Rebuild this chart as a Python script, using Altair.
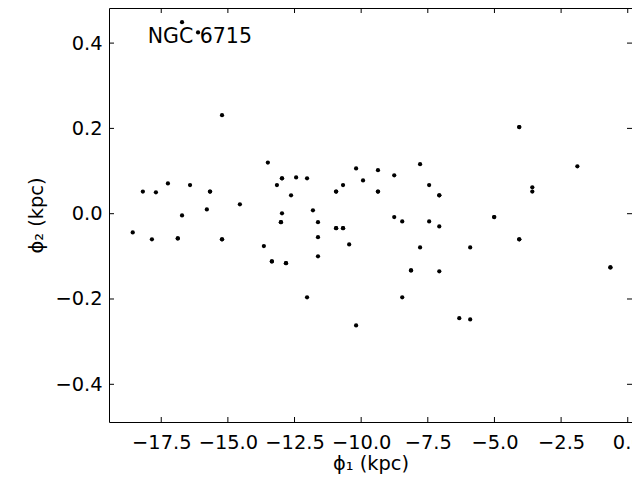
import altair as alt
import pandas as pd

# phi1 (kpc), phi2 (kpc) (overlapping stars listed twice)
phi1 = [-18.57, -18.19, -17.85, -17.70, -17.25, -16.88, -16.88, -16.72, -16.72, -16.42,
        -16.12, -15.79, -15.67, -15.67, -15.22, -15.22, -15.22, -14.55, -13.65, -13.50,
        -13.35, -13.35, -13.16, -12.97, -12.97, -12.97, -13.01, -13.01, -12.82, -12.82,
        -12.63, -12.44, -12.03, -12.03, -11.81, -11.62, -11.62, -11.62, -10.94, -10.94,
        -10.94, -10.94, -10.68, -10.68, -10.68, -10.45, -10.19, -10.19, -9.93, -9.37,
        -9.37, -9.37, -8.76, -8.76, -8.46, -8.46, -8.13, -8.13, -7.79, -7.79,
        -7.45, -7.45, -7.07, -7.07, -7.07, -7.07, -6.32, -5.91, -5.91, -5.01,
        -5.01, -4.07, -4.07, -4.07, -4.07, -3.58, -3.58, -1.89, -0.65, -0.65]
phi2 = [-0.044, 0.052, -0.060, 0.050, 0.071, -0.058, -0.058, 0.449, -0.004, 0.067,
        0.425, 0.010, 0.052, 0.052, 0.231, -0.060, -0.060, 0.022, -0.076, 0.120,
        -0.112, -0.112, 0.067, 0.083, 0.083, 0.001, -0.020, -0.020, -0.116, -0.116,
        0.043, 0.085, 0.083, -0.196, 0.008, -0.020, -0.055, -0.100, 0.052, 0.052,
        -0.034, -0.034, 0.067, -0.034, -0.034, -0.072, 0.106, -0.262, 0.078, 0.102,
        0.052, 0.052, 0.090, -0.008, -0.018, -0.196, -0.133, -0.133, 0.116, -0.079,
        0.067, -0.018, 0.043, 0.043, -0.030, -0.135, -0.245, -0.079, -0.248, -0.008,
        -0.008, 0.203, 0.203, -0.060, -0.060, 0.062, 0.052, 0.111, -0.126, -0.126]

x_ticks = [-17.5, -15.0, -12.5, -10.0, -7.5, -5.0, -2.5, 0.0]
y_ticks = [-0.4, -0.2, 0.0, 0.2, 0.4]
label_text = "NGC 6715"

W, H = 523, 414
FONT = "DejaVu Sans"
FS = 19.4

df = pd.DataFrame({"phi1": phi1, "phi2": phi2})
xt = pd.DataFrame({"phi1": x_ticks})
yt = pd.DataFrame({"phi2": y_ticks})

xscale = alt.Scale(domain=[-19.46, 0.16], nice=False, zero=False)
yscale = alt.Scale(domain=[-0.4884, 0.4823], nice=False, zero=False)

xaxis = alt.Axis(values=x_ticks, format=".1f", ticks=False, tickSize=0, grid=False,
                 domain=False, labelPadding=11, title="ϕ₁ (kpc)", titlePadding=3,
                 labelFontSize=FS, titleFontSize=FS, titleFontWeight="normal")
yaxis = alt.Axis(values=y_ticks, format=".1f", ticks=False, tickSize=0, grid=False,
                 domain=False, labelPadding=7, title="ϕ₂ (kpc)", titlePadding=8,
                 labelFontSize=FS, titleFontSize=FS, titleFontWeight="normal")

X = lambda: alt.X("phi1:Q", scale=xscale, axis=xaxis)
Y = lambda: alt.Y("phi2:Q", scale=yscale, axis=yaxis)

points = alt.Chart(df).mark_circle(color="black", size=18, opacity=1).encode(x=X(), y=Y())

tick_bottom = alt.Chart(xt).mark_rule(color="black", strokeWidth=1).encode(
    x=X(), y=alt.value(H), y2=alt.value(H - 5))
tick_top = alt.Chart(xt).mark_rule(color="black", strokeWidth=1).encode(
    x=X(), y=alt.value(0), y2=alt.value(5))
tick_left = alt.Chart(yt).mark_rule(color="black", strokeWidth=1).encode(
    y=Y(), x=alt.value(0), x2=alt.value(5))
tick_right = alt.Chart(yt).mark_rule(color="black", strokeWidth=1).encode(
    y=Y(), x=alt.value(W), x2=alt.value(W - 5))

annot = alt.Chart(pd.DataFrame({"label": [label_text]})).mark_text(
    font=FONT, fontSize=20.5, color="black", align="left", baseline="alphabetic"
).encode(x=alt.value(38.7), y=alt.value(35), text="label:N")

chart = alt.layer(points, tick_bottom, tick_top, tick_left, tick_right, annot).properties(
    width=W, height=H,
    background="white",
    autosize=alt.AutoSizeParams(type="none"),
    padding={"left": 101, "top": 0, "right": 0, "bottom": 57},
).configure_view(stroke="black", strokeWidth=1).configure_axis(
    labelFont=FONT, titleFont=FONT, labelColor="black", titleColor="black",
    titleFontWeight="normal", labelFontSize=FS, titleFontSize=FS,
)

chart.save("out.html", embed_options={"renderer": "svg", "actions": False})
